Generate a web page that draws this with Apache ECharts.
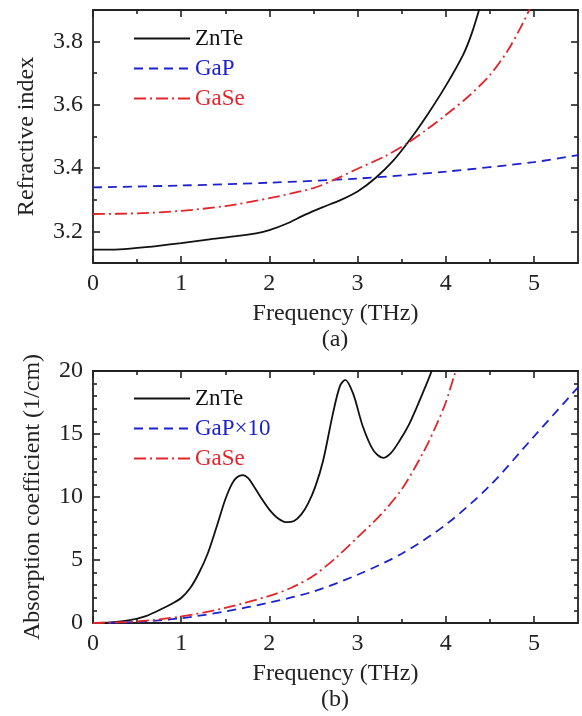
<!DOCTYPE html>
<html>
<head>
<meta charset="utf-8">
<script src="https://cdn.jsdelivr.net/npm/echarts@6/dist/echarts.min.js"></script>
<style>
  html, body { margin: 0; padding: 0; background: #fff; }
  #chart { width: 582px; height: 716px; }
</style>
</head>
<body>
<div id="chart"></div>
<script>
// tick positions
var freqTicks = [0, 1, 2, 3, 4, 5];
var freqMinor = [0.5, 1.5, 2.5, 3.5, 4.5];
var nTicks = [3.2, 3.4, 3.6, 3.8];
var nMinor = [3.3, 3.5, 3.7];
var alphaTicks = [0, 5, 10, 15, 20];
var alphaMinor = [1, 2, 3, 4, 6, 7, 8, 9, 11, 12, 13, 14, 16, 17, 18, 19];

// (a) refractive index, [THz, n]
var znteIndex = [[0, 3.142], [0.3, 3.143], [0.6, 3.150], [1.0, 3.163], [1.3, 3.174], [1.6, 3.184],
  [1.85, 3.194], [2.0, 3.204], [2.2, 3.225], [2.4, 3.252], [2.6, 3.276], [2.8, 3.298], [3.0, 3.326],
  [3.2, 3.368], [3.4, 3.422], [3.6, 3.492], [3.8, 3.572], [4.0, 3.66], [4.2, 3.76], [4.3, 3.83], [4.42, 3.94]];
var gapIndex = [[0, 3.339], [1, 3.345], [2, 3.354], [3, 3.367], [4, 3.389], [5, 3.419], [5.5, 3.441]];
var gaseIndex = [[0, 3.255], [0.5, 3.257], [1.0, 3.265], [1.5, 3.28], [2.0, 3.305], [2.5, 3.337],
  [2.75, 3.365], [3.0, 3.398], [3.3, 3.436], [3.55, 3.476], [3.8, 3.525], [4.0, 3.568], [4.25, 3.625],
  [4.5, 3.694], [4.7, 3.77], [4.85, 3.845], [5.0, 3.93]];

// (b) absorption coefficient, [THz, 1/cm]
var znteAbs = [[0, 0], [0.2, 0.05], [0.4, 0.2], [0.6, 0.55], [0.8, 1.19], [0.9, 1.55], [1.0, 1.98],
  [1.1, 2.75], [1.2, 3.95], [1.3, 5.5], [1.4, 7.6], [1.5, 9.8], [1.58, 11.1], [1.64, 11.6], [1.7, 11.74],
  [1.76, 11.5], [1.82, 10.9], [1.9, 10.0], [2.0, 9.0], [2.1, 8.3], [2.2, 8.0], [2.28, 8.1], [2.36, 8.6],
  [2.44, 9.5], [2.52, 10.8], [2.61, 12.9], [2.72, 16.6], [2.80, 18.8], [2.86, 19.3], [2.95, 18.2],
  [3.06, 15.6], [3.18, 13.7], [3.29, 13.1], [3.38, 13.5], [3.48, 14.5], [3.58, 15.7], [3.67, 17.1],
  [3.76, 18.6], [3.84, 20], [3.95, 22.5]];
var gapAbs = [[0, 0], [0.5, 0.08], [1.0, 0.38], [1.5, 0.92], [2.0, 1.62], [2.5, 2.5], [3.0, 3.83],
  [3.5, 5.5], [4.0, 7.8], [4.5, 10.9], [5.0, 14.8], [5.5, 18.7]];
var gaseAbs = [[0, 0], [0.5, 0.12], [1.0, 0.52], [1.5, 1.2], [2.0, 2.15], [2.25, 2.8], [2.5, 3.75],
  [2.75, 5.15], [3.0, 6.8], [3.25, 8.5], [3.5, 10.6], [3.75, 13.6], [3.9, 15.8], [4.0, 17.5],
  [4.1, 19.7], [4.2, 21.9]];

var FONT = 'Liberation Serif';
var INK = '#222';
var BLACK = '#111';
var BLUE = '#1c22cc';
var RED = '#e0262a';

// one set of ticks on one side of a grid
function tickAxis(grid, pos, range, vals, len, main, extra) {
  return Object.assign({
    type: 'value',
    gridIndex: grid,
    position: pos,
    offset: 0,
    min: range[0],
    max: range[1],
    axisLine: { show: main, onZero: false, lineStyle: { color: INK, width: 1.8 } },
    axisTick: { show: true, inside: true, length: len, customValues: vals,
      lineStyle: { color: INK, width: 1.6 } },
    axisLabel: { show: false },
    splitLine: { show: false }
  }, extra || {});
}

function labels(vals, margin) {
  return { show: true, customValues: vals, margin: margin,
    fontFamily: FONT, fontSize: 24, color: INK };
}

var fRange = [0, 5.5], nRange = [3.1, 3.9], aRange = [0, 20];
var nameStyle = { fontFamily: FONT, fontSize: 24, color: INK };

var xAxes = [];
var yAxes = [];
[0, 1].forEach(function (g) {
  xAxes.push(tickAxis(g, 'bottom', fRange, freqTicks, 7, true, {
    axisLabel: labels(freqTicks, 9),
    name: 'Frequency (THz)', nameLocation: 'middle', nameGap: 39,
    nameTextStyle: nameStyle, nameMoveOverlap: false
  }));
  xAxes.push(tickAxis(g, 'bottom', fRange, freqMinor, 4, false));
  xAxes.push(tickAxis(g, 'top', fRange, freqTicks, 7, true));
  xAxes.push(tickAxis(g, 'top', fRange, freqMinor, 4, false));
});

yAxes.push(tickAxis(0, 'left', nRange, nTicks, 7, true, {
  axisLabel: labels(nTicks, 10),
  name: 'Refractive index', nameLocation: 'middle', nameGap: 54,
  nameTextStyle: nameStyle, nameMoveOverlap: false
}));
yAxes.push(tickAxis(0, 'left', nRange, nMinor, 4, false));
yAxes.push(tickAxis(0, 'right', nRange, nTicks, 7, true));
yAxes.push(tickAxis(0, 'right', nRange, nMinor, 4, false));

yAxes.push(tickAxis(1, 'left', aRange, alphaTicks, 7, true, {
  axisLabel: labels(alphaTicks, 10),
  name: 'Absorption coefficient (1/cm)', nameLocation: 'middle', nameGap: 48,
  nameTextStyle: nameStyle, nameMoveOverlap: false
}));
yAxes.push(tickAxis(1, 'left', aRange, alphaMinor, 4, false));
yAxes.push(tickAxis(1, 'right', aRange, alphaTicks, 7, true));
yAxes.push(tickAxis(1, 'right', aRange, alphaMinor, 4, false));

function curve(name, data, xi, yi, color, dash) {
  return {
    type: 'line', name: name, data: data,
    xAxisIndex: xi, yAxisIndex: yi,
    smooth: 0.3, symbol: 'none', clip: true,
    lineStyle: { color: color, width: 1.8, type: dash },
    itemStyle: { color: color }
  };
}

var legendText = { fontFamily: FONT, fontSize: 23, color: INK };

var option = {
  animation: false,
  backgroundColor: '#fff',
  grid: [
    { left: 93, top: 10, width: 485, height: 253, outerBoundsMode: 'none' },
    { left: 93, top: 371, width: 485, height: 252, outerBoundsMode: 'none' }
  ],
  xAxis: xAxes,
  yAxis: yAxes,
  legend: [
    { orient: 'vertical', left: 128, top: 22, itemWidth: 56, itemHeight: 14, itemGap: 7,
      textStyle: legendText, itemStyle: { opacity: 0 },
      data: [
        { name: 'ZnTe', textStyle: { color: BLACK } },
        { name: 'GaP', textStyle: { color: BLUE } },
        { name: 'GaSe', textStyle: { color: RED } }
      ] },
    { orient: 'vertical', left: 128, top: 382, itemWidth: 56, itemHeight: 14, itemGap: 7,
      textStyle: legendText, itemStyle: { opacity: 0 },
      data: [
        { name: 'ZnTe', textStyle: { color: BLACK } },
        { name: 'GaP×10', textStyle: { color: BLUE } },
        { name: 'GaSe', textStyle: { color: RED } }
      ] }
  ],
  graphic: [
    { type: 'text', x: 335, y: 340, style: { text: '(a)', font: '24px "Liberation Serif"',
      fill: INK, align: 'center', verticalAlign: 'middle' } },
    { type: 'text', x: 335, y: 700, style: { text: '(b)', font: '24px "Liberation Serif"',
      fill: INK, align: 'center', verticalAlign: 'middle' } }
  ],
  series: [
    curve('ZnTe', znteIndex, 0, 0, BLACK, 'solid'),
    curve('GaP', gapIndex, 0, 0, BLUE, [9, 6]),
    curve('GaSe', gaseIndex, 0, 0, RED, [12, 4, 2, 4]),
    curve('ZnTe', znteAbs, 4, 4, BLACK, 'solid'),
    curve('GaP×10', gapAbs, 4, 4, BLUE, [9, 6]),
    curve('GaSe', gaseAbs, 4, 4, RED, [12, 4, 2, 4])
  ]
};

var chart = echarts.init(document.getElementById('chart'));
chart.setOption(option);
</script>
</body>
</html>
